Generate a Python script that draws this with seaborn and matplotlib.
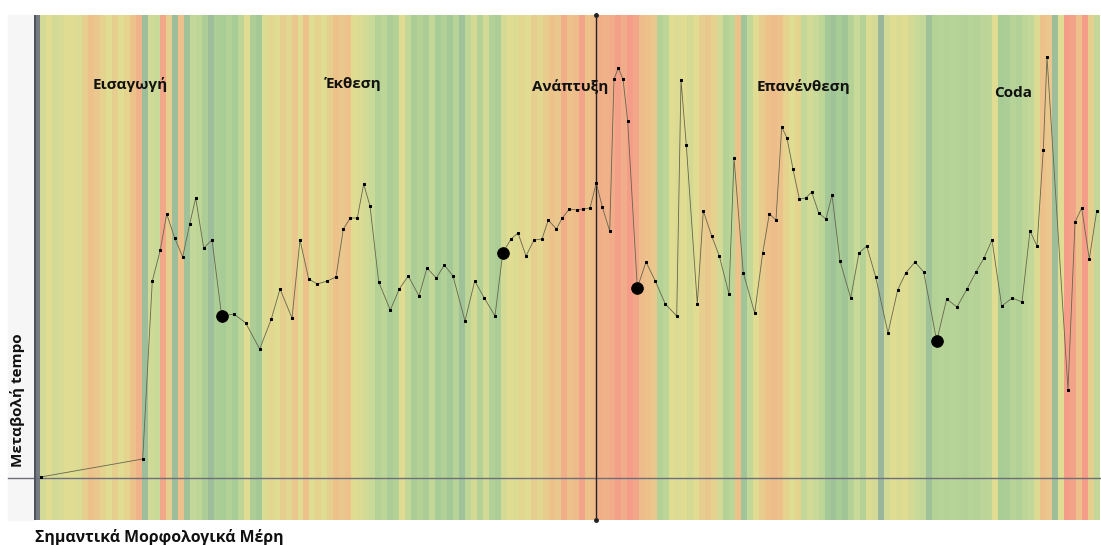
import numpy as np
import matplotlib.pyplot as plt
import seaborn as sns
from matplotlib.colors import LinearSegmentedColormap

# -------------------------------
# Data
# -------------------------------
# background colour band: 0 = red ... 2 = yellow ... 4 = green ... 6 = gray
stripe_values = [
    5.8, 2.5, 2, 2.5, 2.3, 2, 2, 2.2, 1.5, 1, 1.2, 1.6, 2, 1.5, 2, 1.7, 1, 0.6, 4.4, 2.6,
    2.8, 0.3, 1.5, 4.4, 1, 4.3, 3, 3.2, 3.8, 4.4, 3.8, 4, 3.6, 4, 3.2, 2, 3.8, 4.1, 2.2, 1.8,
    2, 1.5, 1.8, 1.2, 2, 1, 2, 1.6, 2, 1.5, 1, 1.2, 1, 2, 2.2, 2.5, 2.8, 3.5, 3.2, 3.8,
    3.5, 2, 3, 3.8, 3.5, 3.8, 3, 4, 3.6, 4.1, 3.4, 4.3, 3.2, 2.4, 3.5, 2.5, 3.6, 3.8, 2.4, 2,
    2.2, 1.8, 2, 1.5, 1.8, 1.4, 1, 1.2, 0.5, 1, 0.8, 0.2, 1, 0.8, 0.5, 0.6, 0.4, 0.1, 0.4, 0,
    0.3, 0.8, 1, 1.2, 3.5, 3.2, 2, 2.2, 2, 2.4, 2, 1.5, 1.2, 1.6, 2.5, 3.5, 3.2, 1, 4.2, 3,
    2, 1.4, 1, 0.8, 1, 1.6, 2, 1.7, 3, 2.5, 2.8, 3.2, 4.1, 4.3, 4, 4.2, 3.5, 2.8, 3.5, 2.2,
    2.4, 4.6, 2.5, 2, 2.2, 2, 2.4, 2.8, 3, 4.3, 3.5, 3.4, 3.5, 3.4, 3.5, 3.6, 3.4, 3.5, 3.3, 3.2,
    2, 4, 3.8, 3.4, 3.6, 3.2, 3, 2.2, 1, 1.2, 4.4, 2, 0, 0.2, 1, 0, 1.5, 3,
]

tempo_x = [
    6.7, 108.7, 118.3, 126.3, 132.7, 140.7, 148.7, 155.7, 161.7, 169.7,
    178, 187.7, 200, 211.7, 225.7, 237.3, 246, 258, 266, 274.7,
    283.3, 293.3, 302, 309.3, 316.3, 323.3, 329.7, 336, 344.7, 356.3,
    365.3, 374.3, 385, 393, 402.3, 410.3, 419, 431, 440.7, 450.3,
    461, 468.7, 477, 484, 492, 500, 508, 514.3, 522.3, 528.3,
    535.3, 542.7, 549, 556, 562.3, 568.3, 575.7, 580, 584.3, 589,
    593.7, 603.3, 612, 621.3, 631.3, 642.7, 647, 652.3, 663.3, 669.3,
    677.7, 685.3, 695, 700, 709.3, 720.7, 728.7, 735.3, 742, 747.7,
    753, 759, 765.3, 771.7, 777.7, 784.7, 792, 798, 806, 816.7,
    825, 832.7, 841.7, 854, 863.7, 871.7, 881, 889.7, 902.7, 912.7,
    923, 933, 942, 950, 958, 967.7, 978.3, 988, 996, 1003,
    1009.3, 1013, 1034, 1041, 1047.7, 1055.3, 1062.7,
]
tempo_y = [
    0.1, 1.9, 19.7, 22.8, 26.4, 24.0, 22.1, 25.4, 28.0, 23.0,
    23.8, 16.2, 16.4, 15.5, 12.9, 15.9, 18.9, 16.0, 23.8, 19.9,
    19.4, 19.7, 20.1, 24.9, 26.0, 26.0, 29.4, 27.2, 19.6, 16.8,
    18.9, 20.2, 18.2, 21.0, 20.0, 21.3, 20.2, 15.7, 19.7, 18.0,
    16.2, 22.5, 23.9, 24.5, 22.2, 23.8, 23.9, 25.8, 24.9, 26.0,
    26.9, 26.8, 26.9, 27.0, 29.5, 27.1, 24.7, 39.9, 41.0, 39.9,
    35.7, 19.0, 21.6, 19.7, 17.4, 16.2, 39.8, 33.3, 17.4, 26.7,
    24.2, 22.2, 18.4, 32.0, 20.5, 16.5, 22.5, 26.4, 25.8, 35.1,
    34.0, 30.9, 27.9, 28.0, 28.6, 26.5, 25.9, 28.3, 21.7, 18.0,
    22.5, 23.2, 20.1, 14.5, 18.8, 20.5, 21.6, 20.6, 13.7, 17.9,
    17.1, 18.9, 20.6, 22.0, 23.8, 17.2, 18.0, 17.6, 24.7, 23.2,
    32.8, 42.1, 8.8, 25.6, 27.0, 21.9, 26.7,
]
key_points = [11, 41, 61, 98]

sections = ["Εισαγωγή", "Έκθεση", "Ανάπτυξη", "Επανένθεση", "Coda"]
section_x = [96, 319, 536, 769, 979]
section_y = [39.3, 39.4, 39.1, 39.1, 38.5]
split_x = 562

# -------------------------------
# Figure
# -------------------------------
plt.rcParams['font.family'] = ['Open Sans', 'DejaVu Sans']

W, H = 1101, 545
fig = plt.figure(figsize=(W / 100, H / 100), dpi=100)
rect = [34 / W, 25 / H, 1066 / W, 505 / H]

fig.add_artist(plt.Rectangle((8 / W, 25 / H), 26 / W, 505 / H, color='#f6f6f6',
                             transform=fig.transFigure, zorder=0))

cmap = LinearSegmentedColormap.from_list(
    "band", ["#f59d88", "#ecc28a", "#e0dc92", "#c3d898", "#a7cc95", "#91aaa3", "#6f737b"])

ax_bg = fig.add_axes(rect)
sns.heatmap(np.array([stripe_values]), cmap=cmap, vmin=0, vmax=6, cbar=False,
            xticklabels=False, yticklabels=False, ax=ax_bg)

ax = fig.add_axes(rect)
ax.patch.set_alpha(0)
ax.set_xlim(0, 1066)
ax.set_ylim(-4.2, 46.3)
ax.set_xticks([])
ax.set_yticks([])
for s in ax.spines.values():
    s.set_visible(False)

# baseline and split line
ax.plot([-26, 1066], [0, 0], color='#6e6e7c', lw=1, clip_on=False, zorder=2)
ax.plot([split_x, split_x], [-4.2, 46.3], color='#222222', lw=1, marker='o', ms=2.5,
        clip_on=False, zorder=2)
ax.axvline(0.5, color='#50545c', lw=1.5, zorder=2)

sns.lineplot(x=tempo_x, y=tempo_y, sort=False, ax=ax, color='#66664e', lw=0.6,
             marker='s', markersize=1.6, mfc='black', mec='black', zorder=3)
sns.scatterplot(x=[tempo_x[i] for i in key_points], y=[tempo_y[i] for i in key_points],
                s=70, color='black', edgecolor='black', ax=ax, zorder=4)

for name, x, y in zip(sections, section_x, section_y):
    ax.text(x, y, name, ha='center', va='center', fontsize=11, fontweight='bold',
            color='#111111')

fig.text(18 / W, 1 - 400 / H, "Μεταβολή tempo", rotation=90, ha='center', va='center',
         fontsize=11, fontweight='bold', color='#111111')
fig.text(35 / W, 1 - 537 / H, "Σημαντικά Μορφολογικά Μέρη", ha='left', va='center',
         fontsize=11.4, fontweight='bold', color='#111111')

fig.savefig("out.png", dpi=100)
